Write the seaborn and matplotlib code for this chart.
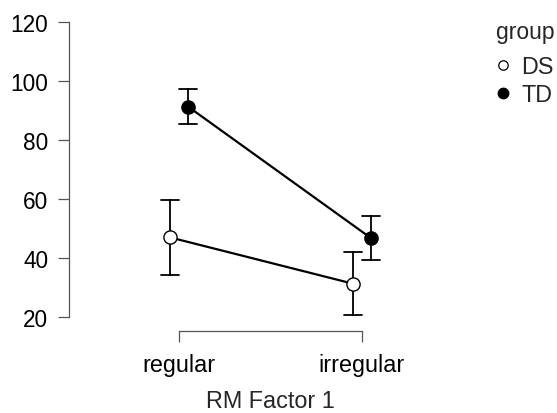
import matplotlib
matplotlib.use("Agg")
import matplotlib.pyplot as plt
from matplotlib.lines import Line2D
import seaborn as sns
import pandas as pd

# values (mean with lower / upper error bar ends)
conditions = ["regular", "irregular"]
groups = ["DS", "TD"]
ds_mean = [47.0, 31.3]
ds_lower = [34.2, 20.7]
ds_upper = [59.8, 42.0]
td_mean = [91.3, 46.7]
td_lower = [85.4, 39.2]
td_upper = [97.2, 54.2]

rows = []
for g, m, lo, hi in [("DS", ds_mean, ds_lower, ds_upper), ("TD", td_mean, td_lower, td_upper)]:
    for i, c in enumerate(conditions):
        for v in (lo[i], m[i], hi[i]):
            rows.append({"RM Factor 1": c, "group": g, "value": v})
df = pd.DataFrame(rows)

sns.set_style("white")
plt.rcParams["font.family"] = ["Liberation Sans", "DejaVu Sans"]

fig = plt.figure(figsize=(5.57, 4.14), dpi=100)
ax = fig.add_axes([69 / 557, 1 - 332 / 414, (420 - 69) / 557, (332 - 22) / 414])

# median of (lower, mean, upper) is the mean; min/max give the error bar
sns.pointplot(data=df, x="RM Factor 1", y="value", hue="group",
              order=conditions, hue_order=groups,
              estimator="median", errorbar=lambda x: (x.min(), x.max()),
              palette={"DS": "black", "TD": "black"}, markers=["o", "o"],
              dodge=0.1, capsize=0.1, linewidth=1.6, markersize=9.5,
              err_kws={"linewidth": 1.3}, ax=ax, legend=False)

for ln in ax.lines:
    if ln.get_marker() == "o":
        ln.set_markeredgecolor("black")
        ln.set_markeredgewidth(1.0)
        ln.set_zorder(5)
# first hue level (DS) gets open markers
marker_lines = [ln for ln in ax.lines if ln.get_marker() == "o"]
if marker_lines:
    marker_lines[0].set_markerfacecolor("white")

ax.set_xlim(-0.601, 1.317)
ax.set_ylim(15.25, 120.34)
ax.set_yticks([20, 40, 60, 80, 100, 120])
ax.set_ylabel("")
ax.set_xlabel("RM Factor 1", fontsize=16.8, va="baseline")
# centre the axis title under the category range, as in the reference
ax.xaxis.set_label_coords((270 - 69) / 351, -(408 - 332) / 310)

for side in ["top", "right"]:
    ax.spines[side].set_visible(False)
ax.spines["left"].set_bounds(20, 120)
ax.spines["bottom"].set_bounds(0, 1)
for side in ["left", "bottom"]:
    ax.spines[side].set_color("#555555")
    ax.spines[side].set_linewidth(0.9)
ax.tick_params(axis="both", which="major", bottom=True, left=True,
               direction="out", length=8, width=0.9,
               color="#555555", labelcolor="black")
ax.tick_params(axis="y", pad=7, labelsize=16.3)
ax.tick_params(axis="x", pad=8, labelsize=16.8)

handles = [
    Line2D([], [], linestyle="none", marker="o", markersize=6.8,
           markerfacecolor="white", markeredgecolor="black", markeredgewidth=0.9),
    Line2D([], [], linestyle="none", marker="o", markersize=7.5,
           markerfacecolor="black", markeredgecolor="black"),
]
fig.legend(handles, groups, loc="upper left", bbox_to_anchor=(491 / 557, 1 - 56 / 414),
           frameon=False, fontsize=16.8, handletextpad=0.3, labelspacing=0.22,
           handlelength=1.0, borderaxespad=0, borderpad=0)
fig.text(496 / 557, 1 - 33 / 414, "group", fontsize=16.5, va="center", ha="left")

fig.savefig("out.png", dpi=100)
